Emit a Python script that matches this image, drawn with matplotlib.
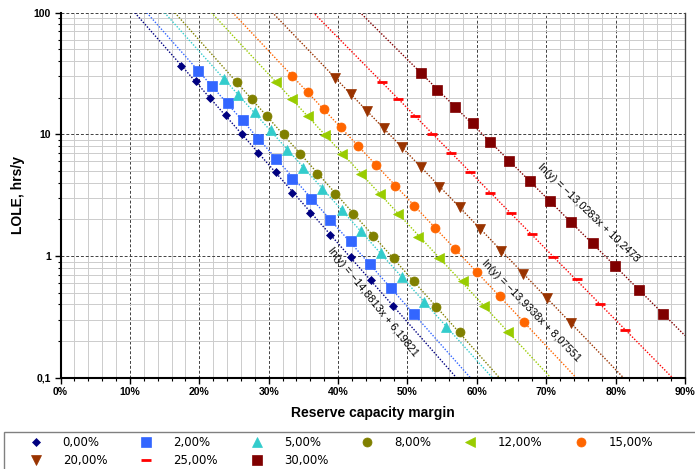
import matplotlib
matplotlib.use('Agg')
import matplotlib.pyplot as plt
from matplotlib.patches import Rectangle
from matplotlib.ticker import FixedLocator, FuncFormatter, MultipleLocator
import numpy as np

# series labels (required reserve of the system)
series_labels = ['0,00%', '2,00%', '5,00%', '8,00%', '12,00%', '15,00%', '20,00%', '25,00%', '30,00%']

# reserve capacity margin (fraction) and LOLE (hrs/y) per series
margin_00 = [0.174, 0.195, 0.216, 0.238, 0.261, 0.284, 0.310, 0.334, 0.360, 0.389, 0.418, 0.448, 0.479]
lole_00 = [36.4, 27.3, 19.9, 14.4, 10.0, 7.06, 4.87, 3.31, 2.24, 1.49, 0.98, 0.64, 0.388]
margin_02 = [0.198, 0.218, 0.241, 0.263, 0.285, 0.310, 0.334, 0.361, 0.389, 0.418, 0.446, 0.476, 0.509]
lole_02 = [33.3, 25.1, 18.2, 13.0, 9.1, 6.30, 4.32, 2.94, 1.98, 1.32, 0.855, 0.549, 0.334]
margin_05 = [0.236, 0.256, 0.280, 0.303, 0.326, 0.350, 0.377, 0.405, 0.433, 0.462, 0.492, 0.524, 0.556]
lole_05 = [28.3, 21.0, 15.3, 10.8, 7.43, 5.26, 3.55, 2.39, 1.60, 1.05, 0.676, 0.421, 0.262]
margin_08 = [0.254, 0.276, 0.298, 0.322, 0.345, 0.370, 0.396, 0.422, 0.450, 0.480, 0.510, 0.541, 0.575]
lole_08 = [26.8, 19.4, 14.1, 10.0, 6.89, 4.72, 3.23, 2.21, 1.46, 0.957, 0.623, 0.383, 0.236]
margin_12 = [0.311, 0.334, 0.357, 0.381, 0.406, 0.433, 0.460, 0.487, 0.515, 0.546, 0.580, 0.610, 0.645]
lole_12 = [26.8, 19.4, 14.1, 9.94, 6.86, 4.72, 3.23, 2.21, 1.44, 0.957, 0.623, 0.388, 0.239]
margin_15 = [0.334, 0.356, 0.380, 0.404, 0.428, 0.455, 0.482, 0.510, 0.539, 0.568, 0.600, 0.633, 0.668]
lole_15 = [30.0, 22.2, 16.1, 11.4, 8.06, 5.56, 3.78, 2.59, 1.71, 1.14, 0.735, 0.469, 0.287]
margin_20 = [0.395, 0.418, 0.442, 0.466, 0.492, 0.519, 0.546, 0.575, 0.605, 0.635, 0.667, 0.701, 0.736]
lole_20 = [29.2, 21.4, 15.6, 11.2, 7.86, 5.42, 3.71, 2.53, 1.67, 1.105, 0.707, 0.454, 0.280]
margin_25 = [0.463, 0.487, 0.511, 0.536, 0.563, 0.590, 0.619, 0.649, 0.679, 0.710, 0.744, 0.778, 0.813]
lole_25 = [26.8, 19.5, 14.2, 10.06, 7.06, 4.87, 3.31, 2.26, 1.51, 0.976, 0.643, 0.403, 0.247]
margin_30 = [0.519, 0.543, 0.568, 0.594, 0.619, 0.647, 0.676, 0.705, 0.736, 0.767, 0.799, 0.833, 0.869]
lole_30 = [31.7, 23.3, 16.9, 12.3, 8.69, 6.03, 4.13, 2.83, 1.90, 1.27, 0.828, 0.526, 0.332]

# trendline equations shown on the chart
equation_texts = {
    0: 'ln(y) = \u221214,8813x + 6,19821',
    5: 'ln(y) = \u221213,9338x + 8,07551',
    8: 'ln(y) = \u221213,0283x + 10,2473',
}

margins = [margin_00, margin_02, margin_05, margin_08, margin_12, margin_15, margin_20, margin_25, margin_30]
loles = [lole_00, lole_02, lole_05, lole_08, lole_12, lole_15, lole_20, lole_25, lole_30]
colors = ['#000080', '#3366FF', '#33CCCC', '#808000', '#99CC00', '#FF6600', '#993300', '#FF0000', '#800000']
markers = ['D', 's', '^', 'o', '<', 'o', 'v', '_', 's']
msizes = [4.5, 6.5, 6.5, 6.5, 6.5, 6.5, 6.5, 6.5, 6.5]

fig = plt.figure(figsize=(6.95, 4.69), dpi=100)
ax = fig.add_axes([60.6 / 695, 1 - 377.7 / 469, (685 - 60.6) / 695, (377.7 - 12.6) / 469])
ax.set_yscale('log')
ax.set_xlim(0, 0.9)
ax.set_ylim(0.1, 100)

xfit = np.linspace(0, 0.9, 200)
handles = []
for i in range(len(series_labels)):
    x = np.array(margins[i])
    y = np.array(loles[i])
    k, b = np.polyfit(x, np.log(y), 1)
    ax.plot(xfit, np.exp(k * xfit + b), color=colors[i], lw=1.0, linestyle=(0, (1, 1.2)), zorder=2)
    mew = 2 if markers[i] == '_' else 0.5
    h, = ax.plot(x, y, linestyle='none', marker=markers[i], ms=msizes[i], color=colors[i],
                 markeredgecolor=colors[i], markeredgewidth=mew, zorder=3, label=series_labels[i])
    handles.append(h)

# equation labels
eq_style = dict(rotation_mode='anchor', ha='center', va='center', fontsize=7.8, family='Liberation Sans')
ax.text(0.450, 0.42, equation_texts[0], rotation=-51, **eq_style)
ax.text(0.679, 0.355, equation_texts[5], rotation=-46, **eq_style)
ax.text(0.761, 2.26, equation_texts[8], rotation=-44, **eq_style)

# grid
ax.xaxis.set_major_locator(MultipleLocator(0.1))
ax.xaxis.set_minor_locator(MultipleLocator(0.02))
ax.yaxis.set_major_locator(FixedLocator([0.1, 1, 10, 100]))
ax.yaxis.set_minor_locator(FixedLocator([m * d for d in [0.1, 1, 10] for m in range(2, 10)]))
ax.grid(which='major', color='#404040', linestyle=(0, (3, 2)), lw=0.7)
ax.grid(which='minor', color='#cccccc', linestyle='-', lw=0.7)
ax.set_axisbelow(True)

ax.xaxis.set_major_formatter(FuncFormatter(lambda v, p: '{:.0f}%'.format(v * 100)))
ax.yaxis.set_major_formatter(FuncFormatter(lambda v, p: ('{:g}'.format(v)).replace('.', ',')))
ax.yaxis.set_minor_formatter(FuncFormatter(lambda v, p: ''))
ax.tick_params(which='major', direction='out', length=4, width=1, labelsize=7.5, pad=3)
ax.tick_params(which='minor', direction='out', length=2.5, width=0.8)
for lab in ax.get_xticklabels() + ax.get_yticklabels():
    lab.set_fontweight('bold')
    lab.set_family('Liberation Sans')

ax.spines['top'].set_visible(False)
ax.spines['right'].set_color('#404040')
ax.spines['right'].set_linewidth(1.0)
ax.spines['left'].set_linewidth(1.5)
ax.spines['bottom'].set_linewidth(1.5)

ax.set_xlabel('Reserve capacity margin', fontsize=10, fontweight='bold', family='Liberation Sans', labelpad=6)
ax.set_ylabel('LOLE, hrs/y', fontsize=10, fontweight='bold', family='Liberation Sans', labelpad=6)

# legend box and entries (row-major order like the original)
fig.patches.append(Rectangle((4 / 695, -0.05), 1.0, (469 - 432) / 469 + 0.05, transform=fig.transFigure,
                             facecolor='white', edgecolor='#808080', lw=1.0))
order = [0, 6, 1, 7, 2, 8, 3, 4, 5]
fig.legend([handles[i] for i in order], [series_labels[i] for i in order], ncol=6,
           loc='upper left', bbox_to_anchor=(19 / 695, 1 - 427 / 469), frameon=False,
           prop={'family': 'DejaVu Sans', 'size': 8.5}, handlelength=1.2, handletextpad=1.7,
           columnspacing=2.7, labelspacing=0.38, borderpad=0.3)

fig.savefig('out.png', dpi=100)
